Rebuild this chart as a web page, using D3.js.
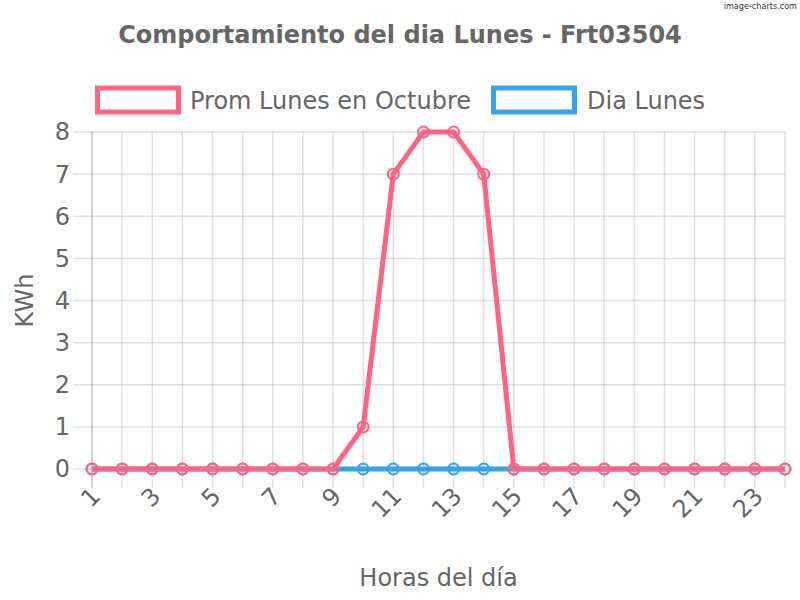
<!DOCTYPE html>
<html>
<head>
<meta charset="utf-8">
<script src="https://cdn.jsdelivr.net/npm/d3@7"></script>
<style>
  html, body { margin: 0; padding: 0; background: #fff; }
  svg { display: block; font-family: "DejaVu Sans", sans-serif; }
</style>
</head>
<body>
<svg id="chart" width="800" height="600"></svg>
<script>
const hours = d3.range(1, 25);
const promLunes = [0,0,0,0,0,0,0,0,0,1,7,8,8,7,0,0,0,0,0,0,0,0,0,0];
const diaLunes  = [0,0,0,0,0,0,0,0,0,0,0,0,0,0,0,0,0,0,0,0,0,0,0,0];
const yTicks = [0,1,2,3,4,5,6,7,8];
const xTickLabels = hours.filter(h => h % 2 === 1);
const seriesNames = ["Prom Lunes en Octubre", "Dia Lunes"];
const colors = ["#ff6384", "#36a2eb"];
const fills = ["rgba(255,99,132,0.1)", "rgba(54,162,235,0.1)"];
const titleText = "Comportamiento del dia Lunes - Frt03504";

const svg = d3.select("#chart");
const pLeft = 92, pRight = 785, pTop = 132, pBottom = 469;
const textColor = "#666";
const fs = 24;

const x = d3.scaleLinear().domain([1, 24]).range([pLeft, pRight]);
const y = d3.scaleLinear().domain([0, 8]).range([pBottom, pTop]);

// watermark
svg.append("text").attr("x", 797).attr("y", 9).attr("text-anchor", "end")
  .attr("font-size", 9).attr("fill", "#333").attr("font-family", "'DejaVu Sans Condensed', 'DejaVu Sans', sans-serif")
  .text("image-charts.com");

// title
svg.append("text").attr("x", 400).attr("y", 43).attr("text-anchor", "middle")
  .attr("font-size", fs).attr("font-weight", "bold").attr("fill", textColor)
  .text(titleText);

// legend
const legendItems = [
  {name: seriesNames[0], color: colors[0], bx: 97.5, tx: 190},
  {name: seriesNames[1], color: colors[1], bx: 493.5, tx: 587}
];
legendItems.forEach(d => {
  svg.append("rect").attr("x", d.bx).attr("y", 88).attr("width", 81).attr("height", 24)
    .attr("fill", "#fff").attr("stroke", d.color).attr("stroke-width", 5);
  svg.append("text").attr("x", d.tx).attr("y", 109).attr("font-size", fs)
    .attr("fill", textColor).text(d.name);
});

// grid: horizontal
const gridColor = "rgba(0,0,0,0.12)";
const gy = svg.append("g");
gy.selectAll("line").data(yTicks).join("line")
  .attr("x1", pLeft - 19).attr("x2", pRight)
  .attr("y1", d => y(d)).attr("y2", d => y(d))
  .attr("stroke", gridColor).attr("stroke-width", 1.5);

// grid: vertical
const gx = svg.append("g");
gx.selectAll("line").data(hours).join("line")
  .attr("x1", d => x(d)).attr("x2", d => x(d))
  .attr("y1", pTop).attr("y2", pBottom + 19)
  .attr("stroke", (d, i) => i === 0 ? "rgba(0,0,0,0.22)" : gridColor).attr("stroke-width", 1.5);

// y tick labels
svg.append("g").selectAll("text").data(yTicks).join("text")
  .attr("x", 70).attr("y", d => y(d)).attr("dy", "0.35em")
  .attr("text-anchor", "end").attr("font-size", fs).attr("fill", textColor)
  .text(d => d);

// x tick labels
svg.append("g").selectAll("text").data(xTickLabels).join("text")
  .attr("transform", d => `translate(${x(d) - 3},${pBottom + 16}) rotate(-45)`)
  .attr("text-anchor", "end").attr("dy", "0.75em").attr("font-size", fs).attr("fill", textColor)
  .text(d => d);

// axis titles
svg.append("text").attr("transform", `translate(33,${(pTop + pBottom) / 2}) rotate(-90)`)
  .attr("text-anchor", "middle").attr("font-size", fs).attr("fill", textColor).text("KWh");
svg.append("text").attr("x", (pLeft + pRight) / 2).attr("y", 586)
  .attr("text-anchor", "middle").attr("font-size", fs).attr("fill", textColor).text("Horas del día");

// series (draw second dataset first so first is on top)
const line = d3.line().x((d, i) => x(hours[i])).y(d => y(d));
const series = [{vals: diaLunes, color: colors[1], fill: fills[1]}, {vals: promLunes, color: colors[0], fill: fills[0]}];
series.forEach(s => {
  const g = svg.append("g");
  g.append("path").datum(s.vals).attr("d", line).attr("fill", "none")
    .attr("stroke", s.color).attr("stroke-width", 5).attr("stroke-linejoin", "round");
  g.selectAll("circle").data(s.vals).join("circle")
    .attr("cx", (d, i) => x(hours[i])).attr("cy", d => y(d)).attr("r", 5.5)
    .attr("fill", s.fill).attr("stroke", s.color).attr("stroke-width", 2);
});
</script>
</body>
</html>
